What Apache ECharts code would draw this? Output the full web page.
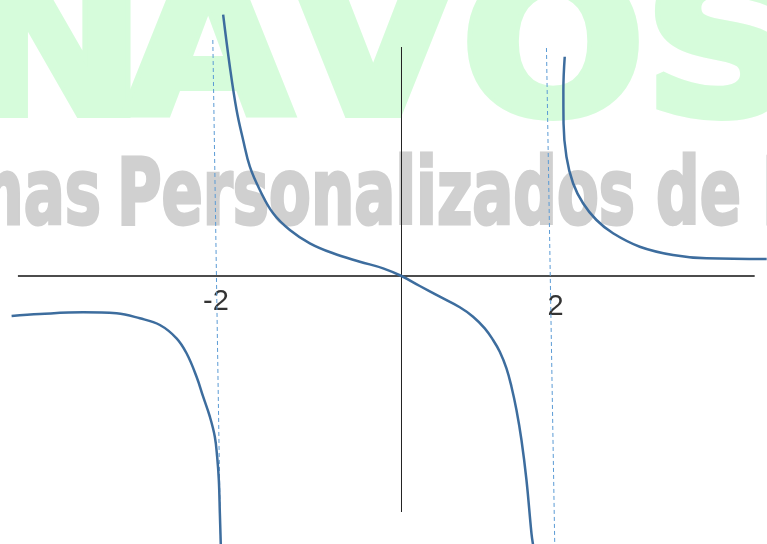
<!DOCTYPE html>
<html>
<head>
<meta charset="utf-8">
<script src="https://cdn.jsdelivr.net/npm/echarts@6.0.0/dist/echarts.min.js"></script>
<style>
  html, body { margin: 0; padding: 0; background: #fff; }
  #chart { width: 767px; height: 544px; }
</style>
</head>
<body>
<div id="chart"></div>
<script>
  // curve branches (x, y in plot units)
  var leftBranch = [
    [-4.875, -0.50], [-4.521, -0.475], [-3.98, -0.454], [-3.5625, -0.466],
    [-3.271, -0.529], [-3.021, -0.6125], [-2.8125, -0.779], [-2.6875, -0.966],
    [-2.5625, -1.259], [-2.48, -1.509], [-2.396, -1.759], [-2.334, -2.009],
    [-2.305, -2.259], [-2.284, -2.55], [-2.271, -2.966], [-2.259, -3.375]
  ];
  var middleBranch = [
    [-2.23, 3.266], [-2.146, 2.616], [-2.062, 2.075], [-1.98, 1.70],
    [-1.896, 1.366], [-1.771, 1.075], [-1.605, 0.784], [-1.396, 0.575],
    [-1.146, 0.409], [-0.855, 0.284], [-0.521, 0.179], [-0.23, 0.096],
    [0, 0], [0.229, -0.125], [0.479, -0.259], [0.729, -0.391],
    [0.895, -0.509], [1.041, -0.654], [1.145, -0.80], [1.229, -0.946],
    [1.3125, -1.154], [1.375, -1.384], [1.4375, -1.675], [1.50, -2.05],
    [1.5625, -2.55], [1.625, -3.216], [1.6475, -3.375]
  ];
  var rightBranch = [
    [2.041, 2.741], [2.024, 2.325], [2.026, 1.909], [2.0625, 1.491],
    [2.145, 1.159], [2.27, 0.909], [2.4375, 0.70], [2.645, 0.534],
    [2.979, 0.366], [3.395, 0.2625], [3.8125, 0.221], [4.566, 0.2125]
  ];
  var asymptoteLeft = [[-2.359, 2.95], [-2.2625, -3.35]];
  var asymptoteRight = [[1.8125, 2.85], [1.916, -3.35]];
  var xAxisSegment = [[-4.796, 0], [4.416, 0]];
  var yAxisSegment = [[0, 2.8625], [0, -2.95]];
  var tickLabels = ['-2', '2'];
  var tickLabelPos = [[-2.321, -0.33], [1.925, -0.385]];

  var curveColor = '#3d6d9e';
  var dashColor = '#5b9bd5';

  function lineSeries(name, data, style, smooth) {
    return {
      name: name,
      type: 'line',
      data: data,
      smooth: smooth,
      showSymbol: false,
      silent: true,
      lineStyle: style
    };
  }

  function letter(ch, cx) {
    return {
      type: 'text',
      x: cx, y: 62,
      scaleX: 1.2, scaleY: 1,
      z: -10,
      style: {
        text: ch, x: 0, y: 0,
        font: 'bold 200px "DejaVu Sans Condensed"',
        fill: '#d6fcdb', stroke: '#d6fcdb', lineWidth: 8,
        align: 'center', verticalAlign: 'middle'
      }
    };
  }

  function greyText(str, x, align) {
    return {
      type: 'text', x: x, y: 200, scaleX: 0.735, z: -9,
      style: {
        text: str, x: 0, y: 0,
        font: 'bold 92px "DejaVu Sans Condensed"',
        fill: '#d0d0d0', stroke: '#d0d0d0', lineWidth: 3,
        align: align, verticalAlign: 'middle'
      }
    };
  }

  var chart = echarts.init(document.getElementById('chart'));
  chart.setOption({
    animation: false,
    backgroundColor: '#fff',
    grid: { left: 0, right: 0, top: 0, bottom: 0 },
    xAxis: { type: 'value', min: -5.02, max: 4.57, show: false },
    yAxis: { type: 'value', min: -3.35, max: 3.45, show: false },
    graphic: [
      letter('N', 55), letter('A', 208), letter('V', 373), letter('O', 553), letter('S', 722),
      greyText('Sistemas', 101, 'right'),
      greyText('Personalizados de Internet', 117, 'left')
    ],
    series: [
      lineSeries('ejeX', xAxisSegment, { color: '#111', width: 1.3 }, false),
      lineSeries('ejeY', yAxisSegment, { color: '#222', width: 1 }, false),
      lineSeries('asintota1', asymptoteLeft, { color: dashColor, width: 1, type: [4, 3] }, false),
      lineSeries('asintota2', asymptoteRight, { color: dashColor, width: 1, type: [4, 3] }, false),
      lineSeries('rama1', leftBranch, { color: curveColor, width: 2.5 }, 0.4),
      lineSeries('rama2', middleBranch, { color: curveColor, width: 2.5 }, 0.4),
      lineSeries('rama3', rightBranch, { color: curveColor, width: 2.5 }, 0.4),
      {
        type: 'scatter',
        symbolSize: 0,
        silent: true,
        data: tickLabels.map(function (t, i) {
          return { name: t, value: tickLabelPos[i] };
        }),
        label: {
          show: true,
          position: 'inside',
          formatter: '{b}',
          fontFamily: 'Liberation Sans',
          fontSize: 29,
          color: '#000'
        }
      }
    ]
  });
</script>
</body>
</html>
